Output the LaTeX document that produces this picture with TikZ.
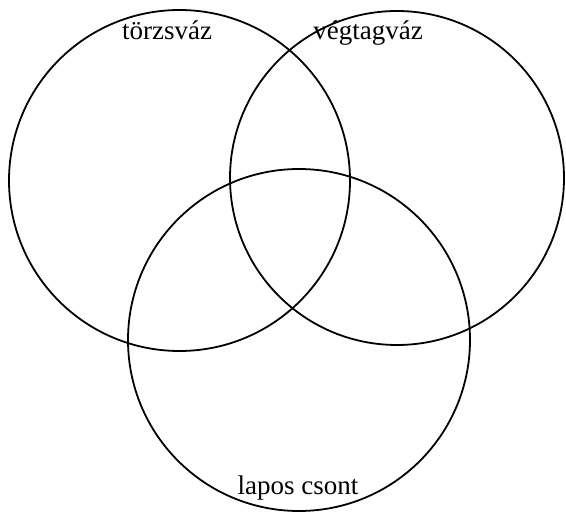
\documentclass[tikz,border=0pt]{standalone}
\usepackage{fontspec}
\setmainfont{Liberation Serif}

\begin{document}
\begin{tikzpicture}[x=1pt,y=-1pt,
        main/.style = {draw, circle, line width=1.8pt, inner sep=0pt, minimum size=#1},
        txt/.style = {anchor=base, inner sep=0pt, font=\fontsize{27}{30}\selectfont}]
        \useasboundingbox (0,0) rectangle (566,513);
        \node[main=341pt] (torzs) at (179.5,180.5) {};
        \node[main=334pt] (vegtag) at (397,178) {};
        \node[main=342pt] (lapos) at (299,340) {};
        \node[txt] (t1) at (167,40) {törzsváz};
        \node[txt] (t2) at (368,40) {végtagváz};
        \node[txt] (t3) at (298,495) {lapos csont};
\end{tikzpicture}
\end{document}
